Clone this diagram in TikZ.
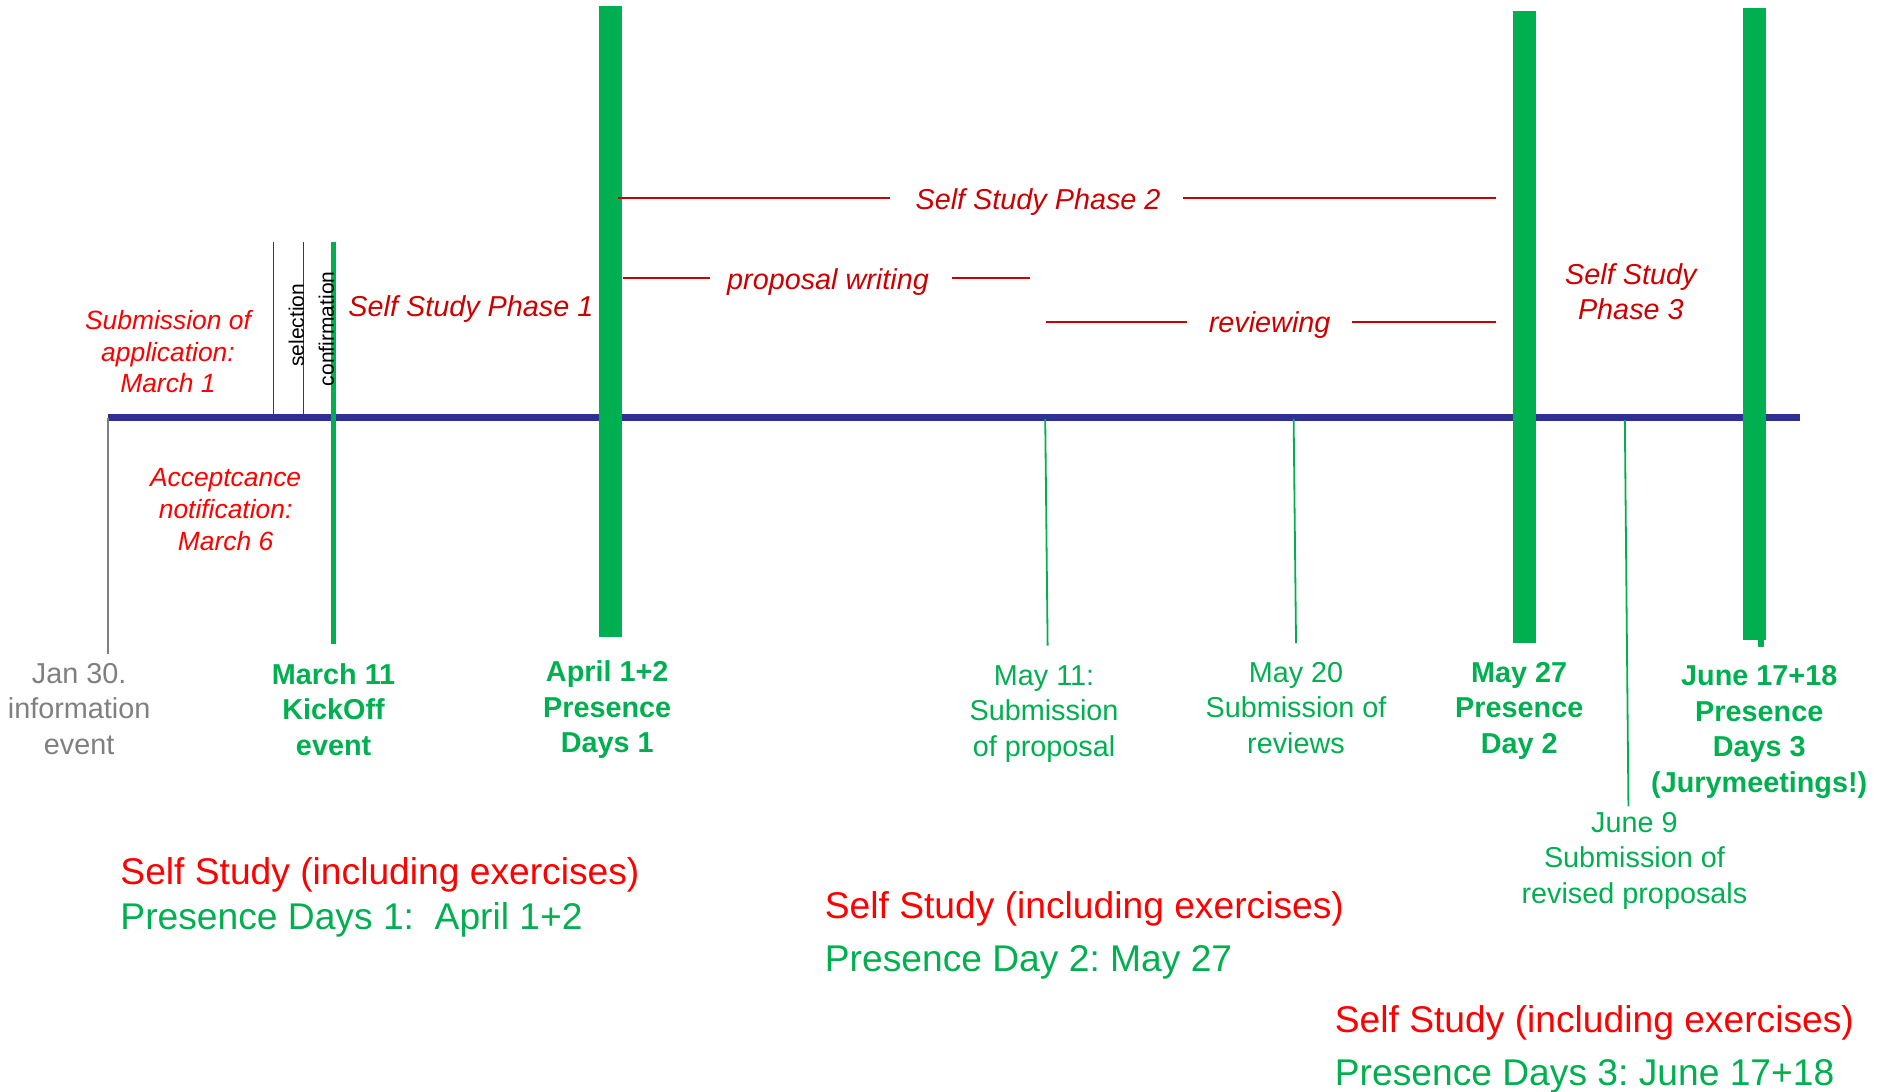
\documentclass[tikz,border=0pt]{standalone}
\usepackage{fontspec}
\setmainfont{Liberation Sans}
\frenchspacing
\definecolor{tlnavy}{RGB}{46,49,146}
\definecolor{tlgreen}{RGB}{0,176,80}
\definecolor{tlred}{RGB}{255,0,0}
\definecolor{tldred}{RGB}{204,0,0}
\definecolor{tlgray}{RGB}{127,127,127}
\tikzset{
  lbl/.style={anchor=north, inner sep=0pt, align=center, text=tlgreen, font=\fontsize{12}{14.75}\selectfont},
  lblb/.style={anchor=north, inner sep=0pt, align=center, text=tlgreen, font=\bfseries\fontsize{12}{14.75}\selectfont},
  redlbl/.style={anchor=north, inner sep=0pt, align=center, text=tlred, font=\itshape\fontsize{11}{13.25}\selectfont},
  phase/.style={text=tldred, inner sep=0pt, font=\itshape\fontsize{12}{14.4}\selectfont},
  inl/.style={phase, anchor=mid},
  bottomtxt/.style={anchor=base west, inner sep=0pt, font=\fontsize{15.5}{18}\selectfont},
  rottxt/.style={rotate=90, inner sep=0pt, font=\fontsize{8.75}{10}\selectfont},
  bar/.style={fill=tlgreen, draw=none},
  thintick/.style={draw=tlgreen, line width=0.75pt},
  redline/.style={draw=tldred, line width=0.8pt},
}
\begin{document}
\begin{tikzpicture}[x=0.5pt,y=-0.5pt]
\useasboundingbox (0,0) rectangle (1568.3,909.2);

% coordinates
\coordinate (t0) at (90,348);
\coordinate (t1) at (1500,348);
\coordinate (janB) at (90,545);
\coordinate (selT) at (228,202);
\coordinate (selB) at (228,348);
\coordinate (conT) at (253,202);
\coordinate (conB) at (253,348);
\coordinate (kT) at (278,202);
\coordinate (kB) at (278,537);
\coordinate (m11T) at (871,349);
\coordinate (m11B) at (873,538);
\coordinate (m20T) at (1078,349);
\coordinate (m20B) at (1080,536);
\coordinate (j9T) at (1354,350);
\coordinate (j9B) at (1357,672);

% timeline
\draw[tlnavy, line width=3pt] (t0) -- (t1);
\draw[tlgray, line width=0.75pt] (t0) -- (janB);
\draw[tlnavy, line width=0.7pt] (selT) -- (selB);
\draw[tlnavy, line width=0.7pt] (conT) -- (conB);
\draw[tlgreen, line width=2pt] (kT) -- (kB);
\draw[thintick] (m11T) -- (m11B);
\draw[thintick] (m20T) -- (m20B);
\draw[thintick] (j9T) -- (j9B);

% presence bars
\fill[bar] (499,5) rectangle (518,531);
\fill[bar] (1261,9) rectangle (1280,536);
\fill[bar] (1452.5,7) rectangle (1471.5,533);
\fill[bar] (1465,532) rectangle (1470,539);

% rotated labels
\node[rottxt] (sel) at (247,271) {selection};
\node[rottxt] (con) at (272,274) {confirmation};

% red italic labels
\node[redlbl] (app) at (140,258) {Submission of\\application:\\March 1};
\node[redlbl] (acc) at (188,390) {Acceptcance\\notification:\\March 6};
\node[phase, anchor=base west] (ph1) at (290,263.6) {Self Study Phase 1};
\node[phase, anchor=north, align=center, font=\itshape\fontsize{12}{14.5}\selectfont] (ph3) at (1359,219.4) {Self Study\\ Phase 3};

% phase 2 and sub-phases
\node[inl] (ph2) at (865,169) {Self Study Phase 2};
\coordinate (ph2a) at (515,165);
\coordinate (ph2b) at (742,165);
\coordinate (ph2c) at (986,165);
\coordinate (ph2d) at (1247,165);
\draw[redline] (ph2a) -- (ph2b);
\draw[redline] (ph2c) -- (ph2d);

\node[inl] (pw) at (690,236) {proposal writing};
\coordinate (pwa) at (519,232);
\coordinate (pwb) at (592,232);
\coordinate (pwc) at (793,232);
\coordinate (pwd) at (858,232);
\draw[redline] (pwa) -- (pwb);
\draw[redline] (pwc) -- (pwd);

\node[inl] (rv) at (1058,272) {reviewing};
\coordinate (rva) at (872,268);
\coordinate (rvb) at (989,268);
\coordinate (rvc) at (1127,268);
\coordinate (rvd) at (1247,268);
\draw[redline] (rva) -- (rvb);
\draw[redline] (rvc) -- (rvd);

% date labels
\node[lbl, text=tlgray] (jan) at (66,552.4) {Jan 30.\\information\\event};
\node[lblb] (kick) at (278,552.4) {March 11\\KickOff\\event};
\node[lblb] (apr) at (506,550.4) {April 1+2\\Presence\\Days 1};
\node[lbl] (may11) at (870,554.4) {May 11:\\Submission\\of proposal};
\node[lbl] (may20) at (1080,551.4) {May 20\\Submission of\\reviews};
\node[lblb] (may27) at (1266,551.4) {May 27\\Presence\\Day 2};
\node[lblb] (jun17) at (1466,554.4) {June 17+18\\Presence\\Days 3\\(Jurymeetings!)};
\node[lbl] (jun9) at (1362,676.4) {June 9\\Submission of\\revised proposals};

% bottom summaries
\node[bottomtxt, text=tlred] (s1) at (100,737.2) {Self Study (including exercises)};
\node[bottomtxt, text=tlgreen] (p1) at (100,774.2) {Presence Days 1:\ \ April 1+2};
\node[bottomtxt, text=tlred] (s2) at (687,765.2) {Self Study (including exercises)};
\node[bottomtxt, text=tlgreen] (p2) at (687,809.2) {Presence Day 2: May 27};
\node[bottomtxt, text=tlred] (s3) at (1112,860.2) {Self Study (including exercises)};
\node[bottomtxt, text=tlgreen] (p3) at (1112,904.2) {Presence Days 3: June 17+18};
\end{tikzpicture}
\end{document}
